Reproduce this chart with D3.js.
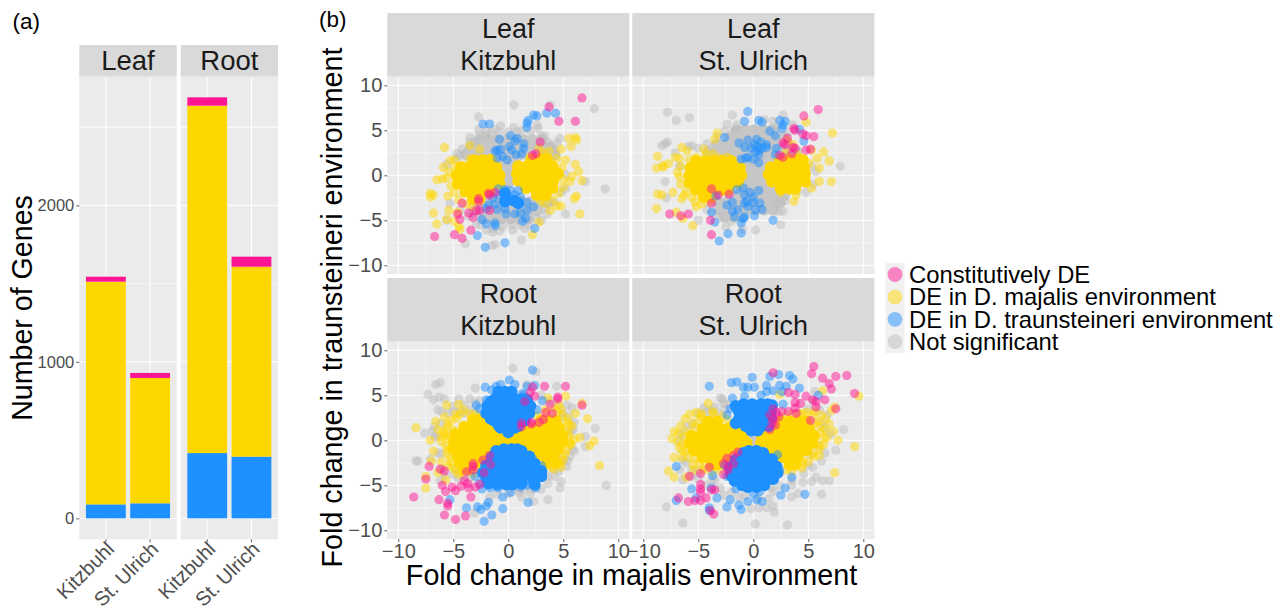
<!DOCTYPE html>
<html>
<head>
<meta charset="utf-8">
<script src="https://cdn.jsdelivr.net/npm/d3@7"></script>
<style>
html, body { margin: 0; padding: 0; background: #fff; }
text { font-family: "Liberation Sans", Arial, sans-serif; }
</style>
</head>
<body>
<div id="main"></div>
<script>
// ---- panel (a): number of genes ----
const SITES = ["Kitzbuhl", "St. Ulrich"];
const TISSUES = ["Leaf", "Root"];
const leafBlue = [89, 96], leafGold = [1423, 801], leafPink = [32, 32];
const rootBlue = [417, 394], rootGold = [2220, 1214], rootPink = [53, 64];
const BAR_TICKS = [0, 1000, 2000];

// ---- panel (b): fold changes, [majalis, traunsteineri] ----
// "Core" arrays are the spots where points overlap so much that the colour is solid
const leafKitzGreyCore = [[-2.6,3.9],[-1.8,3.9],[-1,3.9],[-.2,3.9],[.6,3.9],[1.4,3.9],[2.2,3.9],[3,3.9],[-3.4,3.1],[-2.6,3.1],[-1.8,3.1],[-1,3.1],[-.2,3.1],[.6,3.1],[1.4,3.1],[2.2,3.1],[3,3.1],[3.8,3.1],[-3.8,2.3],[-3,2.3],[-2.2,2.3],[-1.4,2.3],[-.6,2.3],[.2,2.3],[1,2.3],[1.8,2.3],[2.6,2.3],[3.4,2.3],[4.2,2.3],[-.6,1.5],[0,1.5],[.6,1.5],[0,.7],[0,0],[0,-.8],[-2.8,-3],[-2,-3],[-1.2,-3],[-.4,-3],[.4,-3],[1.2,-3],[2,-3],[2.8,-3],[3.6,-3],[-3,-3.9],[-2.2,-3.9],[-1.4,-3.9],[-.6,-3.9],[.2,-3.9],[1,-3.9],[1.8,-3.9],[2.6,-3.9],[-2.2,-4.8],[-1.4,-4.8],[-.6,-4.8],[.2,-4.8],[1,-4.8],[1.8,-4.8]];
const leafKitzGrey = [[.5,7.8],[3.8,7.8],[7.8,7.4],[-2.7,6.5],[-.7,5.5],[.5,5.3],[2.6,5.6],[2.7,5.2],[-2.7,5.1],[-2.6,4.5],[-1.5,4.7],[-.8,4.8],[.8,4.8],[-2,4.5],[3.3,4.4],[4.7,4.1],[4.4,3.6],[-3.5,3.7],[-4.2,2.9],[-4.7,2.4],[8.8,-1.5],[7,-.7],[5.2,-4.3],[3.5,-4.3],[1.2,-7.2],[-1.2,-7.7],[-3.9,-7.6],[-1.5,-7.8],[1.5,-5.9],[-1.4,-6.3],[-.5,-5.7],[-5.6,-5],[-1.4,-5.9],[.3,-5.5],[1.1,-5.5],[-2.5,-5.5],[3,-5],[5.2,-1.5],[5.2,.1],[-3.5,4.2],[-3,3.8],[-2,4.9],[-1.2,5.1],[0,4.8],[1.2,5],[2,4.9],[3,4.3],[3.6,3.7],[4.2,2.9],[-4.4,2.2],[-4.7,1.8],[-5.6,1.2],[-5.3,-3.1],[-4.4,-3.9],[-3.6,-4.6],[-2.9,-5.4],[-2,-6.1],[-.8,-6.2],[.4,-6.1],[1.8,-5.5],[2.6,-4.9],[3.4,-3.7],[4.2,-3],[4.8,-1.9]];
const leafKitzGoldCore = [[-3.1,1.7],[-2.3,1.7],[-1.6,1.7],[-4.3,.9],[-3.5,.9],[-2.7,.9],[-1.9,.9],[-1.1,.9],[-4.7,0],[-3.9,0],[-3.1,0],[-2.3,0],[-1.5,0],[-.8,0],[-4.6,-.9],[-3.8,-.9],[-3,-.9],[-2.2,-.9],[-1.4,-.9],[-.8,-.9],[-3.9,-1.8],[-3.1,-1.8],[-2.3,-1.8],[-1.7,-1.8],[-3.2,-2.6],[-2.6,-2.6],[2.1,1.8],[2.9,1.8],[3.5,1.8],[.9,1],[1.7,1],[2.5,1],[3.3,1],[4,1],[.8,.2],[1.6,.2],[2.4,.2],[3.2,.2],[4,.2],[4.5,.2],[.9,-.6],[1.7,-.6],[2.5,-.6],[3.3,-.6],[4.1,-.6],[1.6,-1.4],[2.4,-1.4],[3.2,-1.4],[4,-1.4],[2.6,-2.2],[3.4,-2.2]];
const leafKitzGold = [[-5.8,3.1],[-3.5,3.3],[-2.6,2.9],[5.5,4.1],[6.1,4.2],[6.2,3.9],[5.7,3.2],[4.8,2.9],[-5.9,.9],[-6.5,-.5],[-7.1,-2],[-6.8,-2.2],[-7.1,-2.4],[-6.8,-4.2],[-6.5,-5.4],[-5.4,-3.9],[-5.6,-4.9],[-4.9,-5.1],[-4.5,-5.7],[-4.4,-6],[-5.5,-2.3],[6.5,-4.3],[6.2,-2.3],[6,-2.6],[2.2,-6.6],[2.8,-5.2],[3.8,-3.9],[4.4,-3.4],[4.8,-3.4],[6.4,.4],[6.7,-.6],[6.1,1.2],[5.2,1.7],[5.8,-.1],[5.6,-.7],[5,-1.3],[-4.9,1.7],[-5.3,1.6],[-3.5,1.8],[-5.4,.4],[-5.6,-.3],[-6,-.4],[-5.2,-1.2],[-4.9,-1.9],[-4.5,-2.7],[-3.8,-3.2],[-3.3,-3.5],[4.9,.9],[5,-.4],[4.6,-2],[4,-2.7],[3.3,-3.1],[2.9,-2.8],[3.7,2.7],[2.8,3],[3.2,2.5],[4.4,1.9],[-4.6,-4.1],[-4.1,1.1],[-4.8,.8]];
const leafKitzBlueCore = [[-.3,-2],[.5,-2.8],[-.3,-2.9],[.9,-3.1]];
const leafKitzBlue = [[-2.3,5.7],[-1.7,5.7],[2.3,6.7],[2.6,6.6],[1.8,6.1],[1.7,5.8],[1.7,5.3],[3.5,6.9],[4.3,6.9],[-.8,4],[.2,4.4],[.8,4.1],[.6,3.8],[1.4,3.5],[1.4,3],[-1.2,2.7],[-1,2.8],[-.7,2.9],[.1,3.2],[.3,2.8],[-.5,2.1],[-.1,1.7],[.7,2.3],[1.2,2.4],[-1,1.9],[-.3,-1.6],[-.9,-1.5],[.2,-1.7],[.9,-1.7],[-.9,-2.2],[.6,-2.2],[1.1,-2.4],[-1.4,-2.5],[1.7,-3],[2.3,-3.5],[-.3,-3.7],[-1,-3.8],[-1.8,-3.3],[-1.2,-3.2],[-2,-3.7],[-.2,-4.3],[.6,-4.3],[1.1,-4.2],[1.7,-3.9],[-2.4,-4.9],[-1.2,-5.3],[-1.2,-5.6],[-2,-5.4],[1.3,-5.1],[1.6,-4.8],[2.4,-5.9],[-2.8,-6.7],[-2.1,-8],[-.3,-7.5]];
const leafKitzPink = [[6.7,8.6],[3.7,7.6],[4.6,6],[6.1,6],[-6.7,-6.8],[-4.9,-6.6],[-4.2,-7],[-3.4,-6.1],[-4.6,-4.3],[-4.4,-4.9],[-3.2,-4.7],[-3.6,-4.2],[-4.2,-3.1],[-2.7,-2.6],[-2.7,-2.9],[-1.7,-2.2],[-1.8,-2],[-1.2,-1.9],[-2.6,-3.9],[-2.9,-3.9],[-1.7,-3.9],[2.9,3.7],[2.2,2.2],[2.5,2.4]];

const leafUlrichGreyCore = [[-1.5,5],[-.7,5],[.1,5],[.9,5],[1.7,5],[-2.1,4.2],[-1.3,4.2],[-.5,4.2],[.3,4.2],[1.1,4.2],[1.9,4.2],[2.7,4.2],[-3.3,3.4],[-2.5,3.4],[-1.7,3.4],[-.9,3.4],[-.1,3.4],[.7,3.4],[1.5,3.4],[2.3,3.4],[3.1,3.4],[-4.1,2.6],[-3.3,2.6],[-2.5,2.6],[-1.7,2.6],[-.9,2.6],[-.1,2.6],[.7,2.6],[1.5,2.6],[2.3,2.6],[3.1,2.6],[3.9,2.6],[-1,1.8],[-.2,1.8],[.6,1.8],[1.4,1.8],[-.8,1],[0,1],[.8,1],[-.8,.2],[0,.2],[.8,.2],[-.8,-.6],[0,-.6],[.8,-.6],[-1,-1.4],[-.2,-1.4],[.6,-1.4],[1.4,-1.4],[2.2,-1.4],[-2,-2.2],[-1.2,-2.2],[-.4,-2.2],[.4,-2.2],[1.2,-2.2],[2,-2.2],[2.8,-2.2],[-3.2,-3],[-2.4,-3],[-1.6,-3],[-.8,-3],[0,-3],[.8,-3],[1.6,-3],[2.4,-3],[-3,-3.8],[-2.2,-3.8],[-1.4,-3.8],[-.6,-3.8],[.2,-3.8],[1,-3.8],[1.8,-3.8],[-2.6,-4.6],[-1.8,-4.6],[-1,-4.6]];
const leafUlrichGrey = [[-7.8,7],[-7,6.1],[-5.8,6.4],[-1.9,6.7],[-2.4,5.7],[1,6.2],[2.7,6.7],[1.8,6],[3.6,5.6],[-1.8,5],[-7.8,3.7],[-8.3,3.3],[-8,3.5],[-7.1,2.5],[-5.9,3.2],[-5.6,3.3],[-4.2,3.5],[-6.7,1],[-8,-.7],[-7.9,-2.5],[7.9,1],[4.8,-1.9],[4,-1.7],[2.9,-2.8],[2.1,-3.1],[2.7,-4],[2.3,-4],[2.5,-5.5],[.2,-6.1],[-1,-6],[-2.5,-5.7],[-5,-5],[-3,-4.6],[-3.2,4.3],[-2.6,4.9],[2.2,5.3],[3.2,4.8],[-5,3],[5.3,1],[5.7,.4],[5.4,-1],[-4.2,-3.8],[-3.7,-4.2],[-2,-5.1],[-1.5,5.6]];
const leafUlrichGoldCore = [[-5.2,1.6],[-4.4,1.6],[-3.6,1.6],[-2.8,1.6],[-2,1.6],[-5.7,.8],[-4.9,.8],[-4.1,.8],[-3.3,.8],[-2.5,.8],[-1.7,.8],[-1.2,.8],[-5.8,0],[-5,0],[-4.2,0],[-3.4,0],[-2.6,0],[-1.8,0],[-1.1,0],[-5.8,-.8],[-5,-.8],[-4.2,-.8],[-3.4,-.8],[-2.6,-.8],[-1.8,-.8],[-1.4,-.8],[-5.2,-1.6],[-4.4,-1.6],[-3.6,-1.6],[-2.8,-1.6],[-2.3,-1.6],[-4.5,-2.4],[-3.8,-2.4],[2.4,1.7],[3.2,1.7],[4,1.7],[4.5,1.7],[1.6,.9],[2.4,.9],[3.2,.9],[4,.9],[4.6,.9],[1.4,.1],[2.2,.1],[3,.1],[3.8,.1],[4.7,.1],[1.7,-.7],[2.5,-.7],[3.3,-.7],[4.1,-.7],[4.7,-.7],[2.5,-1.5],[3.3,-1.5],[3.8,-1.5]];
const leafUlrichGold = [[7.2,4.7],[4.8,5.9],[-3.3,4.7],[-3.5,4],[-6.5,3.1],[-6,2.7],[-4.5,2.9],[-8.7,2.1],[-8.8,.8],[-8.2,.9],[-8.2,1.1],[-7.7,1.3],[-7.1,2],[-6.7,1.9],[-5.8,1.7],[-5.2,2],[-3.2,2],[-2.4,2],[-8.7,-2.1],[-8.3,-2.2],[-7.3,-1.9],[-8.8,-3.7],[-7,-4.1],[-6.4,-4.8],[-5.5,-5.6],[-6.5,-2.6],[-6.3,-2.2],[-5.2,-3.5],[-5.3,-2.9],[6.4,2.6],[6.9,1.6],[5.8,1.9],[6,.8],[6,-.7],[7.1,-.7],[5.3,-1.4],[3.7,-2.9],[2.5,-1.9],[3.9,-2.2],[5.3,2.8],[5.1,1.3],[4.8,.6],[4.8,-.9],[-6.6,1],[-6.7,-.2],[-6.6,-1],[-6.1,-1.8],[-5.6,-2.4],[-4.7,-3.2],[-4,-2.9],[-4.3,2.3],[-3.7,2.4],[3,2.5],[4,2.3],[3.1,3.9],[3.6,3.4],[-6.9,.3]];
const leafUlrichBlueCore = [];
const leafUlrichBlue = [[-.5,7.1],[-.8,6],[.5,6.1],[.8,5.9],[2.4,6.1],[2.9,6],[2.7,5.6],[2.6,5.2],[1.5,4.9],[2,4.4],[-2.6,4.2],[4.2,5.1],[4.6,3.8],[-1.3,3.6],[-.5,3.9],[.3,4],[.7,3.7],[1.2,3.4],[-.8,3.1],[-.2,3],[.5,2.8],[.1,3.4],[.8,3],[1.2,3.1],[2.1,3],[2,2.3],[.5,2.3],[.2,2.6],[.4,3.2],[-.5,2],[-1.1,1.8],[-.7,1.9],[.5,1.4],[0,1.8],[-.9,-1.4],[-1.5,-1.6],[.5,-1.7],[-.3,-1.9],[-.8,-2.2],[0,-2.4],[-.6,-2.9],[0,-3],[.6,-3.1],[-2.4,-3.3],[-1.9,-3],[-1.4,-3.8],[-1.9,-4],[-1.7,-4.6],[-.8,-3.1],[-.5,-3.5],[.2,-3.8],[.8,-3.8],[.1,-4.5],[-.8,-4.6],[-1.1,-5.3],[-.9,-4.8],[1.8,-5],[-3.5,-5.2],[-3.8,-4.1],[-2.3,-6.5],[-1.1,-6.4],[-3.1,-7.3],[-3.4,-2.3]];
const leafUlrichPink = [[5.9,7.3],[4.6,6.6],[3.7,5.2],[3.8,5],[4.5,4.6],[4.8,4.4],[5.5,4.3],[2.7,3.6],[2.9,3.4],[3.6,3.1],[3.8,3],[4.8,2.8],[5.2,2.9],[3.1,4.1],[2.4,2.2],[2.7,2],[3.5,2.4],[-3.8,-1.5],[-3.2,-2.2],[-2.2,-2.1],[-3.8,-3.1],[-7.6,-4.3],[-6.6,-4.5],[-5.9,-4.3],[-3.9,-5],[-3.8,-6.6]];

const rootKitzGreyCore = [[0,.6],[0,0],[0,-.6]];
const rootKitzGrey = [[.4,8],[2.5,7.6],[-6.6,6.2],[-6.2,6.4],[-7.3,5.1],[-6.8,4.5],[-6.3,4.8],[-5.8,4.6],[-4.5,4.6],[-3.5,4.6],[-3,5.8],[-6.4,3.4],[-6.1,3.2],[-7.6,.8],[-6.7,1.5],[-6.9,1],[-6.7,.4],[-8.4,-2.3],[-8.2,-2.3],[-7.1,-2.1],[1.7,6.2],[4.4,6],[5.8,3.6],[5.3,3.9],[7.9,1.3],[7,.4],[7,-.7],[8.9,-5],[5.4,-2.3],[5,-2.2],[4.1,-3.2],[4.6,-3.4],[3.6,-4],[4.8,-4.6],[4.7,-5.3],[3.6,-4.8],[3.6,-6.6],[2.3,-6.8],[2,-5.9],[.9,-5.5],[1.2,-6.3],[-3.1,-8.1],[-1.7,-6.3],[-6.2,-4.5],[-4,3.9],[-5,3.8],[-3,4.2],[-5.5,3],[-6.1,1.9],[-4,3],[3,5],[3.8,4.4],[5,3],[5.9,1.2],[5.8,-1],[2.2,-5.4],[3,-5.4],[1.4,-5.4],[-5,-3.8],[-6.1,-1.5],[-5.8,-3.9],[-4.6,-4.2],[-5,3.2],[-4.4,3.2],[-3.4,3.4],[-3,3],[-2.6,4.4],[-4.8,-3.2],[-4,-4],[-3.4,-4.2],[4.5,3.8],[4.8,2.6],[5.5,2.6],[6,2],[5.7,1],[6,-1.2],[5.6,-1.8],[5.3,-2.9],[4.2,-4],[1,-5.8],[0,-5.9],[-1,-6],[3,-3.8],[-6.5,.4],[-6.4,-1.4],[-6,-3.2]];
const rootKitzGoldCore = [[-3.2,2.3],[-2.6,2.3],[-4,1.5],[-3.2,1.5],[-2.4,1.5],[-1.7,1.5],[-4.8,.7],[-4,.7],[-3.2,.7],[-2.4,.7],[-1.6,.7],[-1,.7],[-4.9,-.1],[-4.1,-.1],[-3.3,-.1],[-2.5,-.1],[-1.7,-.1],[-.9,-.1],[-.5,-.1],[-5,-.9],[-4.2,-.9],[-3.4,-.9],[-2.6,-.9],[-1.8,-.9],[-1.1,-.9],[-4.6,-1.7],[-3.8,-1.7],[-3,-1.7],[-2.2,-1.7],[-1.7,-1.7],[-4.4,-2.5],[-3.6,-2.5],[-2.9,-2.5],[-4,-3.2],[-3.5,-3.2],[3,2.2],[3.7,2.2],[4.3,2.2],[1.7,1.4],[2.5,1.4],[3.3,1.4],[4.1,1.4],[4.6,1.4],[1,.6],[1.8,.6],[2.6,.6],[3.4,.6],[4.2,.6],[4.9,.6],[.5,-.2],[1.2,-.2],[2,-.2],[2.8,-.2],[3.6,-.2],[4.4,-.2],[4.9,-.2],[1.3,-1],[2.1,-1],[2.9,-1],[3.7,-1],[4.5,-1],[2.5,-1.8],[3.3,-1.8],[4.1,-1.8],[3.5,-2.5],[4.3,-2.5]];
const rootKitzGold = [[-8.4,1.4],[-7.1,0],[-6.6,2.1],[-5.6,3.9],[-4.5,4],[-4.1,3.4],[-5.8,2.6],[-5.9,1],[-6.1,-.1],[-6.8,-1.2],[-7,-2.3],[-7.5,-4],[-7.5,-5.3],[-5.7,-4.4],[-6.4,-3.6],[-6.1,-2.4],[-5.5,-2.9],[8.3,-2.8],[7.8,-.1],[7.4,-.6],[6.5,.3],[7.2,2.4],[6.1,3],[6.7,4.1],[5.2,4.9],[3.6,4.7],[5.7,-.5],[5.5,.6],[5.3,2],[5.5,1.7],[4.7,-2.6],[4.9,2.8],[4.4,3.2],[-5.5,1.8],[-4.7,2.4],[-5.4,.5],[-5.5,-1],[-5.3,-2],[-5,-3],[-4.5,-3.8],[5.6,-.1],[5.3,-1],[4.8,-1.8],[3.9,-3],[3.4,3.4],[4.6,4],[-4.8,2.9],[-6.1,.4],[-5.6,1.4],[-5.2,2.2],[-4.4,2.9],[-3.6,3],[-3,2.9],[-5.7,-.6],[-5.5,.2],[-5.6,-1.5],[-5.2,-2.4],[-4.8,-3.4],[-4.2,-3.6],[-3.2,-3.7],[-2.8,-3.3],[-5.8,.7],[-6.4,1.2],[-5,1.2],[5.4,1],[5.6,-.4],[5.2,-1.5],[5,-2.2],[4.8,-3],[4.2,-3.2],[5.4,2.4],[4.8,3.4],[4.2,3.5],[3.5,3.1],[2.6,2.8],[5.8,1.6],[6,.1]];
const rootKitzBlueCore = [[-.9,5.4],[-.3,5.4],[.3,5.4],[-1.2,4.6],[-.6,4.6],[0,4.6],[.6,4.6],[-1.9,3.8],[-1.1,3.8],[-.3,3.8],[.5,3.8],[1.3,3.8],[2,3.8],[-2,3],[-1.2,3],[-.4,3],[.4,3],[1.2,3],[1.9,3],[-1.3,2.2],[-.6,2.2],[.2,2.2],[.9,2.2],[-.7,1.4],[0,1.4],[.6,1.4],[0,.9],[-1.6,4.3],[1.2,4.6],[1.7,4.5],[-1.6,2.4],[1.5,2.2],[-.9,1.7],[.9,1.6],[-.4,-1],[.3,-1],[.8,-1],[-.9,-1.8],[-.1,-1.8],[.7,-1.8],[1.4,-1.8],[-1.4,-2.6],[-.6,-2.6],[.2,-2.6],[1,-2.6],[1.8,-2.6],[-1.7,-3.4],[-.9,-3.4],[-.1,-3.4],[.7,-3.4],[1.5,-3.4],[2.4,-3.4],[-2,-4.2],[-1.2,-4.2],[-.4,-4.2],[.4,-4.2],[1.2,-4.2],[2.2,-4.2],[-1,-4.9],[-.2,-4.9],[2.4,-4.9],[-1.1,-1.2],[1.2,-1.2],[1.9,-1.8],[-1.5,-1.9],[2.4,-2.6],[-2,-2.8],[-2.3,-3.6],[3,-3.4],[3,-4],[-1.8,-4.8],[1.2,-4.8],[.4,-4.9]];
const rootKitzBlue = [[2.2,7.8],[-2.1,5.9],[.1,6.7],[-1.1,6],[1.7,6],[2.4,6.1],[3.1,4.4],[-2.9,3.9],[-2,4.5],[-2.6,3.5],[1.8,4.3],[2.6,3.4],[1.4,5],[-.7,6.2],[.6,6.2],[-1.5,5.6],[1.3,5.2],[-5.3,-6.6],[-3.8,-7.5],[-2.8,-7.4],[-2.5,-7.7],[-2,-7.3],[-1.8,-6.9],[-1.5,-8.3],[-2.2,-9],[-.5,-7.6],[-.5,-6.3],[.2,-5.8],[1.8,-6.9],[2.5,-5.3],[-2.4,-5.4],[-1.6,-5.3],[-.9,-5.3],[2.1,-4.8],[2.9,-3.7],[2.6,-3.1],[-2.6,-4.8],[-3,-4],[-2.3,-3.8],[-2.1,-2.9],[1.1,-5.2],[1.7,-5],[-1.4,-1.6],[2.2,-2],[3,-2.8]];
const rootKitzPink = [[5.2,6],[3.3,6],[2.2,5.9],[2,5.3],[2.4,4.9],[4.5,4.8],[4.5,4.6],[6.7,3.9],[3.8,4],[1.5,4.3],[3.4,3.1],[4,3],[3.2,2.3],[2.8,2],[2.1,2],[2.1,1.8],[1.2,1.9],[1.2,1.5],[-1.7,-1.7],[-2.3,-2.2],[-1.6,-2.7],[-3.2,-2.6],[-3.2,-2.9],[-3.2,-3.3],[-3.8,-3.5],[-6.2,-3.2],[-5.8,-3.4],[-7.2,-2.9],[-7.5,-4.3],[-2.2,-3.6],[-4,-4.5],[-3.7,-4.8],[-4.3,-5.1],[-6,-5],[-5.7,-5.7],[-5.1,-5.2],[-4.8,-5.6],[-3.6,-5.3],[-3,-5.2],[-2.6,-4.9],[-6.3,-6.6],[-5.5,-7],[-5.5,-7.3],[-3.4,-6.3],[-8.6,-6.3],[-5.8,-8.3],[-4.8,-8.8],[-3.9,-8.4]];

const rootUlrichGreyCore = [[0,.6],[0,0],[0,-.6]];
const rootUlrichGrey = [[-7.9,-7.4],[-6.4,-9.2],[.2,-9.3],[3.1,-9.4],[1.9,-8],[1.8,-7.3],[1.2,-7.5],[.5,-7.5],[-.2,-7.6],[6.2,-6],[3.5,-6.3],[4.1,-5.9],[6.9,-4.5],[6.3,-4.5],[5.7,-4.1],[5.3,-4.6],[4.5,-4.7],[8.2,1.2],[7.5,-1.1],[5.2,-1.6],[5.6,5.4],[-3,4.7],[-4.5,3.6],[-3.5,3.7],[-3.8,3.3],[-2.7,4.1],[-6.1,1.5],[-5.5,1.8],[-6.7,-.1],[-6.4,-4.4],[-6.7,-3.3],[-5.6,-4],[-4.4,-5],[-3,-5.3],[-2.7,-6.1],[2.4,-5],[1.8,-5.7],[-3.2,3],[-2.3,4],[4,3],[5,3.5],[6.2,2],[6.5,1.4],[5.9,-.6],[5,-2.8],[3.5,-4.4],[2.4,-3.7],[1.6,-5.2],[-1.3,-6.3],[-3.5,-4.4],[-5,-3.3],[-6.1,-2.5],[-5,3],[-4.2,3.2],[-2.6,3.4],[-2.8,4.6],[6,3.4],[5.4,4.4],[6.7,2.8],[7,.7],[6.5,-1.4],[6.2,-2.3],[5.4,-3],[4.6,-3.7],[3.5,-5],[1.4,-6.5],[.4,-6.4],[-.8,-6.2],[-2,-5.8],[-3.8,-4.6],[-5,-4.2],[-5.6,-3.3],[-6.4,-2.2],[-6.6,.7]];
const rootUlrichGoldCore = [[-4.1,2.1],[-3.3,2.1],[-4.6,1.3],[-3.8,1.3],[-3,1.3],[-2.2,1.3],[-1.6,1.3],[-5.6,.5],[-4.8,.5],[-4,.5],[-3.2,.5],[-2.4,.5],[-1.6,.5],[-.9,.5],[-5.8,-.3],[-5,-.3],[-4.2,-.3],[-3.4,-.3],[-2.6,-.3],[-1.8,-.3],[-1,-.3],[-.6,-.3],[-5.4,-1.1],[-4.6,-1.1],[-3.8,-1.1],[-3,-1.1],[-2.2,-1.1],[-1.5,-1.1],[-4.6,-1.9],[-3.8,-1.9],[-3.1,-1.9],[-2.6,-1.9],[-3.8,-2.7],[-3.3,-2.7],[2.5,2.1],[3.3,2.1],[4.1,2.1],[4.8,2.1],[1.2,1.3],[2,1.3],[2.8,1.3],[3.6,1.3],[4.4,1.3],[5.1,1.3],[.8,.5],[1.6,.5],[2.4,.5],[3.2,.5],[4,.5],[4.8,.5],[5.5,.5],[.7,-.3],[1.5,-.3],[2.3,-.3],[3.1,-.3],[3.9,-.3],[4.7,-.3],[5.4,-.3],[1.7,-1.1],[2.5,-1.1],[3.3,-1.1],[4.1,-1.1],[4.8,-1.1],[2.5,-1.9],[3.3,-1.9],[4,-1.9],[3.3,-2.7],[3.8,-2.7]];
const rootUlrichGold = [[9.6,4.9],[6.3,5.5],[7.4,3.7],[7.1,3.3],[6.6,2.4],[6.9,1.8],[6.2,2.8],[7.3,1],[7.7,0],[9.2,-.7],[6,-1.7],[7.4,-3.6],[4.5,-2.7],[2.4,5.1],[-4.1,4.1],[-6.2,2.4],[-5.8,2.9],[-5.2,3.1],[-7.2,1],[-7.4,.2],[-6,1],[-6.5,-1.9],[-7.2,-1.9],[-7.7,-3.4],[-7.2,-4.1],[-6.1,-4.1],[-3.9,2.1],[-4.7,2.6],[5.6,3.2],[4.9,3.1],[5.6,1.9],[6.1,.9],[6.4,.2],[6,-.6],[5.4,-1.5],[4.5,-2.2],[3,-3.3],[-6.3,.4],[-6.4,-.5],[-6.1,-1.2],[-5.3,-2],[-4.9,-2.6],[-4.6,-3.3],[-5.3,1.6],[-4.7,3],[-3.7,3.2],[4.2,2.9],[-6.6,1.6],[-6.8,.8],[-6.9,-.2],[-6.7,-.9],[-6.4,-1.2],[-5.9,-1.9],[-5.5,-2.7],[-5.4,-3.3],[-4.9,2.4],[-5.5,1.9],[-3.6,3],[-2.8,2.7],[-2.4,2.3],[-4.4,-3.1],[-3.8,-3.5],[-3.1,-3.3],[-2.5,-2.9],[6.5,1.1],[6.7,.3],[6.4,-.5],[6,-1],[5.5,-1.8],[5,-2.4],[4.4,-3.1],[3.5,-3.4],[5.4,2.8],[5.9,2.1],[4.5,3],[3.5,2.9],[2.8,2.6],[6.1,1.6]];
const rootUlrichBlueCore = [[-.9,4],[-.1,4],[.7,4],[1.3,4],[-1.3,3.2],[-.5,3.2],[.3,3.2],[1.1,3.2],[1.6,3.2],[-1.3,2.4],[-.5,2.4],[.3,2.4],[1.1,2.4],[1.6,2.4],[-.7,1.6],[0,1.6],[.8,1.6],[-.2,1.1],[.4,1.1],[-1.6,3.8],[1.7,3.9],[-1.6,1.9],[1.4,1.6],[-.4,-1.2],[.3,-1.2],[-1,-2],[-.2,-2],[.6,-2],[1.2,-2],[-1.4,-2.8],[-.6,-2.8],[.2,-2.8],[1,-2.8],[1.6,-2.8],[-1.7,-3.6],[-.9,-3.6],[-.1,-3.6],[.7,-3.6],[1.5,-3.6],[-1.1,-4.4],[-.3,-4.4],[.5,-4.4],[1.2,-4.4],[-.5,-5.2],[.3,-5.2],[-.9,-1.4],[.9,-1.4],[-1.6,-2.2],[1.7,-2.1],[-2.1,-3],[2.1,-2.9],[2.2,-3.6],[-2,-3.9],[1.8,-4.3],[-1.7,-4.5],[-1,-5],[1,-5]];
const rootUlrichBlue = [[-.1,7],[-4,6],[-2,6.4],[-1.5,6.5],[1.5,7.1],[2.3,7.3],[3.3,7.2],[3.6,6.8],[-.9,5.9],[-.5,5.9],[.1,5.9],[1.2,6.1],[1.8,5.5],[2.4,6.1],[3,6],[4.2,5.8],[2.6,5.4],[1.2,5.4],[-1.9,4.7],[-.8,4.9],[.7,5],[5.9,5],[2.7,4],[-2.4,2.8],[-2.1,3.5],[-7,-2.9],[-3.7,-3.9],[-2.1,-3.7],[-5.6,-5.4],[-3.8,-5.3],[-7,-6.7],[-5.2,-6.4],[-3.3,-6.4],[-2.1,-6.6],[-2.4,-7.4],[-1.3,-7.2],[-1.1,-7.7],[-4,-7.5],[-4,-7.8],[-.5,-6.8],[.3,-6.6],[.8,-6.8],[2.9,-5.3],[2.5,-6.1],[4.7,-6],[3.5,-4.1],[0,-5.9],[.6,-5.7],[-1.6,-5.4],[-.6,-5],[1.8,-4.2],[2.1,-3.8],[2.4,-3.3],[2.2,-1.6],[-2.6,-2.8],[-2.4,-4],[1.9,-3]];
const rootUlrichPink = [[5.5,8.2],[5.3,7.4],[6.3,6.9],[7.5,7.1],[8.5,7.2],[6.9,6.3],[7.1,5.7],[9.2,5.2],[1.8,7.5],[3.2,5.3],[3.8,5.1],[4.8,4.9],[5.4,4.5],[5.7,4.3],[6.5,4.5],[5.7,3.7],[7.5,3.5],[4.3,4.1],[3.8,4.2],[3.8,3.6],[3.9,3],[3.2,3.2],[2.6,3.2],[2.1,3.1],[1.8,3.5],[1.5,2.8],[1.8,2.4],[2.3,2.6],[1.7,1.9],[2,1.7],[1.5,1.2],[5.2,2.2],[-1.4,-1.3],[-1.8,-1.7],[-2.4,-2],[-2.7,-2.6],[-1.8,-2.6],[-2.3,-2.9],[-2.3,-3.3],[-2.7,-3.8],[-4,-3],[-4.8,-3.7],[-5.8,-4],[-4.8,-4.9],[-4.8,-5.4],[-4.8,-5.8],[-3.8,-5.5],[-3.5,-5.5],[-4.3,-6.4],[-4.8,-6.7],[-5.3,-6.7],[-5.9,-6.8],[-6.8,-6.4],[-3.6,-8.2],[-3.9,-7.8]];

const SCATTER_TICKS = [-10, -5, 0, 5, 10];
const SCATTER_MINOR = [-7.5, -2.5, 2.5, 7.5];
const LEGEND_LABELS = ["Constitutively DE", "DE in D. majalis environment", "DE in D. traunsteineri environment", "Not significant"];

const ctx = {
    w: 1284,
    h: 610,
    PANEL_BG: "#ebebeb",
    STRIP_BG: "#d9d9d9",
    TICK_GREY: "#4d4d4d",
    PINK: "#ff1493",
    GOLD: "#ffd700",
    BLUE: "#1e90ff",
    GREY: "#bebebe",
    GREY_SOLID: "#c6c6c6",
    ALPHA: 0.5,
    R: 4.6,
    CORE_R: 6,
};

function drawStrip(svgEl, x, y, w, h, lines, size) {
    svgEl.append("rect").attr("x", x).attr("y", y).attr("width", w).attr("height", h)
        .attr("fill", ctx.STRIP_BG);
    lines.forEach(function (l, i) {
        svgEl.append("text")
            .attr("x", x + w / 2)
            .attr("y", y + h / 2 + (i - (lines.length - 1) / 2) * size * 1.18 + size * 0.35)
            .attr("text-anchor", "middle")
            .attr("font-size", size)
            .attr("fill", "#1a1a1a")
            .text(l);
    });
}

function hGrid(g, y, values, x0, x1, width) {
    g.selectAll(null).data(values).enter().append("line")
        .attr("x1", x0).attr("x2", x1)
        .attr("y1", (d) => y(d)).attr("y2", (d) => y(d))
        .attr("stroke", "#fff").attr("stroke-width", width);
}

function vGrid(g, x, values, y0, y1, width) {
    g.selectAll(null).data(values).enter().append("line")
        .attr("y1", y0).attr("y2", y1)
        .attr("x1", (d) => x(d)).attr("x2", (d) => x(d))
        .attr("stroke", "#fff").attr("stroke-width", width);
}

function styleAxis(axisG, size) {
    axisG.select(".domain").remove();
    axisG.selectAll("line").attr("stroke", "#333").attr("stroke-width", 0.8);
    axisG.selectAll("text").attr("fill", ctx.TICK_GREY).attr("font-size", size)
        .attr("font-family", '"Liberation Sans", Arial, sans-serif');
}

function createBars(svgEl) {
    const top = 76.7, bottom = 539.3;
    const y = d3.scaleLinear().domain([-134, 2822]).range([bottom, top]);
    const panels = [
        { name: TISSUES[0], x0: 79.3, x1: 176.7, blue: leafBlue, gold: leafGold, pink: leafPink },
        { name: TISSUES[1], x0: 180.7, x1: 278, blue: rootBlue, gold: rootGold, pink: rootPink },
    ];
    panels.forEach(function (p, pi) {
        // ggplot discrete scale: categories at 1,2 on a 0.4..2.6 range
        const x = d3.scaleLinear().domain([0.4, 2.6]).range([p.x0, p.x1]);
        const pos = (i) => x(i + 1);
        const u = x(2) - x(1);
        drawStrip(svgEl, p.x0, 45, p.x1 - p.x0, 31.7, [p.name], 27.5);
        svgEl.append("rect").attr("x", p.x0).attr("y", top).attr("width", p.x1 - p.x0).attr("height", bottom - top)
            .attr("fill", ctx.PANEL_BG);
        const g = svgEl.append("g");
        hGrid(g, y, BAR_TICKS.concat([2500]), p.x0, p.x1, 1);
        hGrid(g, y, [500, 1500], p.x0, p.x1, 0.5);
        vGrid(g, pos, [0, 1], top, bottom, 1);
        SITES.forEach(function (s, i) {
            const stack = [[p.blue[i], ctx.BLUE], [p.gold[i], ctx.GOLD], [p.pink[i], ctx.PINK]];
            let base = 0;
            stack.forEach(function (seg) {
                g.append("rect")
                    .attr("x", pos(i) - 0.45 * u)
                    .attr("width", 0.9 * u)
                    .attr("y", y(base + seg[0]))
                    .attr("height", y(base) - y(base + seg[0]))
                    .attr("fill", seg[1]);
                base += seg[0];
            });
        });
        // x labels rotated 45 degrees
        const ax = svgEl.append("g").attr("transform", `translate(0,${bottom})`);
        SITES.forEach(function (s, i) {
            ax.append("line").attr("x1", pos(i)).attr("x2", pos(i)).attr("y1", 0).attr("y2", 3)
                .attr("stroke", "#333").attr("stroke-width", 0.8);
            ax.append("text")
                .attr("transform", `translate(${pos(i) + 9.5},11) rotate(-45)`)
                .attr("text-anchor", "end")
                .attr("font-size", 20)
                .attr("fill", ctx.TICK_GREY)
                .text(s);
        });
        if (pi == 0) {
            const yAxis = svgEl.append("g").attr("transform", `translate(${p.x0},0)`)
                .call(d3.axisLeft(y).tickValues(BAR_TICKS).tickFormat(d3.format("d")).tickSize(3).tickPadding(2));
            styleAxis(yAxis, 16.5);
        }
    });
    svgEl.append("text")
        .attr("transform", "translate(32,308) rotate(-90)")
        .attr("text-anchor", "middle")
        .attr("font-size", 28.6)
        .attr("fill", "#000")
        .text("Number of Genes");
}

function dots(g, data, x, y, color, r, alpha) {
    g.selectAll(null).data(data).enter().append("circle")
        .attr("cx", (d) => x(d[0]))
        .attr("cy", (d) => y(d[1]))
        .attr("r", r)
        .attr("fill", color)
        .attr("fill-opacity", alpha);
}

function createScatter(svgEl, p) {
    const pw = 242, top = p.top, bottom = p.top + 197.3;
    const x = d3.scaleLinear().domain([-10, 10]).range([p.x0 - 110, p.x0 + 110]);
    const y = d3.scaleLinear().domain([-10, 10]).range([p.y0 + 90, p.y0 - 90]);
    const left = p.x0 - 121;
    drawStrip(svgEl, left, top - 63.7, pw, 63.7, p.title, 27);
    svgEl.append("rect").attr("x", left).attr("y", top).attr("width", pw).attr("height", bottom - top)
        .attr("fill", ctx.PANEL_BG);
    const grid = svgEl.append("g");
    hGrid(grid, y, SCATTER_MINOR, left, left + pw, 0.5);
    vGrid(grid, x, SCATTER_MINOR, top, bottom, 0.5);
    hGrid(grid, y, SCATTER_TICKS, left, left + pw, 1);
    vGrid(grid, x, SCATTER_TICKS, top, bottom, 1);

    const g = svgEl.append("g");
    dots(g, p.greyCore, x, y, ctx.GREY_SOLID, ctx.CORE_R, 1);
    dots(g, p.grey, x, y, ctx.GREY, ctx.R, ctx.ALPHA);
    dots(g, p.goldCore, x, y, ctx.GOLD, ctx.CORE_R, 1);
    dots(g, p.gold, x, y, ctx.GOLD, ctx.R, ctx.ALPHA);
    dots(g, p.blueCore, x, y, ctx.BLUE, ctx.CORE_R, 1);
    dots(g, p.blue, x, y, ctx.BLUE, ctx.R, ctx.ALPHA);
    dots(g, p.pink, x, y, ctx.PINK, ctx.R, ctx.ALPHA);

    if (p.showY) {
        const a = svgEl.append("g").attr("transform", `translate(${left},0)`)
            .call(d3.axisLeft(y).tickValues(SCATTER_TICKS).tickSize(3).tickPadding(2));
        styleAxis(a, 20);
    }
    if (p.showX) {
        const a = svgEl.append("g").attr("transform", `translate(0,${bottom})`)
            .call(d3.axisBottom(x).tickValues(SCATTER_TICKS).tickSize(3).tickPadding(2));
        styleAxis(a, 20);
    }
}

function createLegend(svgEl) {
    const colors = [ctx.PINK, ctx.GOLD, ctx.BLUE, ctx.GREY];
    const ky = d3.scalePoint().domain(LEGEND_LABELS).range([274.5, 341.7]);
    svgEl.append("rect").attr("x", 885.5).attr("y", 263).attr("width", 19).attr("height", 90)
        .attr("fill", "#f0f0f0");
    LEGEND_LABELS.forEach(function (l, i) {
        svgEl.append("circle").attr("cx", 895).attr("cy", ky(l)).attr("r", 7.4)
            .attr("fill", colors[i]).attr("fill-opacity", ctx.ALPHA);
        svgEl.append("text").attr("x", 909).attr("y", ky(l) + 8.3)
            .attr("font-size", 23.8).attr("fill", "#000").text(l);
    });
}

function createViz() {
    const svgEl = d3.select("#main").append("svg")
        .attr("width", ctx.w).attr("height", ctx.h)
        .style("display", "block");

    svgEl.append("text").attr("x", 12.5).attr("y", 29).attr("font-size", 22.5).text("(a)");
    svgEl.append("text").attr("x", 319).attr("y", 27).attr("font-size", 22.5).text("(b)");

    createBars(svgEl);

    const scatterPanels = [
        { title: ["Leaf", "Kitzbuhl"], x0: 508.3, y0: 175.3, top: 76.7, showY: true, showX: false,
          greyCore: leafKitzGreyCore, grey: leafKitzGrey, goldCore: leafKitzGoldCore, gold: leafKitzGold,
          blueCore: leafKitzBlueCore, blue: leafKitzBlue, pink: leafKitzPink },
        { title: ["Leaf", "St. Ulrich"], x0: 753.3, y0: 175.3, top: 76.7, showY: false, showX: false,
          greyCore: leafUlrichGreyCore, grey: leafUlrichGrey, goldCore: leafUlrichGoldCore, gold: leafUlrichGold,
          blueCore: leafUlrichBlueCore, blue: leafUlrichBlue, pink: leafUlrichPink },
        { title: ["Root", "Kitzbuhl"], x0: 508.3, y0: 440.3, top: 341.7, showY: true, showX: true,
          greyCore: rootKitzGreyCore, grey: rootKitzGrey, goldCore: rootKitzGoldCore, gold: rootKitzGold,
          blueCore: rootKitzBlueCore, blue: rootKitzBlue, pink: rootKitzPink },
        { title: ["Root", "St. Ulrich"], x0: 753.3, y0: 440.3, top: 341.7, showY: false, showX: true,
          greyCore: rootUlrichGreyCore, grey: rootUlrichGrey, goldCore: rootUlrichGoldCore, gold: rootUlrichGold,
          blueCore: rootUlrichBlueCore, blue: rootUlrichBlue, pink: rootUlrichPink },
    ];
    scatterPanels.forEach((p) => createScatter(svgEl, p));

    svgEl.append("text")
        .attr("transform", "translate(342,307.5) rotate(-90)")
        .attr("text-anchor", "middle")
        .attr("font-size", 28.7)
        .text("Fold change in traunsteineri environment");
    svgEl.append("text")
        .attr("x", 631.5).attr("y", 585)
        .attr("text-anchor", "middle")
        .attr("font-size", 28.7)
        .text("Fold change in majalis environment");

    createLegend(svgEl);
}

createViz();
</script>
</body>
</html>
